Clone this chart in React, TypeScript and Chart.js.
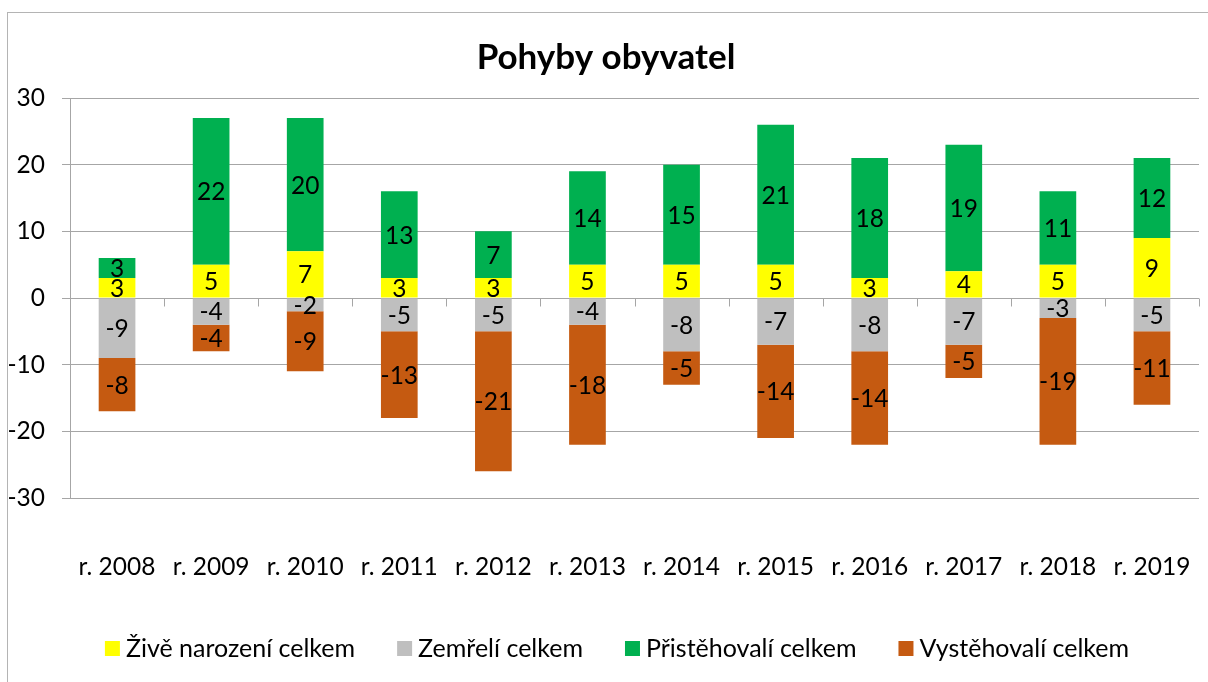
import React, { useEffect, useRef } from 'react';
import { Chart, registerables } from 'chart.js';

Chart.register(...registerables);

const chartTitle = 'Pohyby obyvatel';
const categories = ['r. 2008', 'r. 2009', 'r. 2010', 'r. 2011', 'r. 2012', 'r. 2013', 'r. 2014', 'r. 2015', 'r. 2016', 'r. 2017', 'r. 2018', 'r. 2019'];
const liveBirths = [3, 5, 7, 3, 3, 5, 5, 5, 3, 4, 5, 9];
const deaths = [-9, -4, -2, -5, -5, -4, -8, -7, -8, -7, -3, -5];
const immigrants = [3, 22, 20, 13, 7, 14, 15, 21, 18, 19, 11, 12];
const emigrants = [-8, -4, -9, -13, -21, -18, -5, -14, -14, -5, -19, -11];
const seriesNames = ['Živě narození celkem', 'Zemřelí celkem', 'Přistěhovalí celkem', 'Vystěhovalí celkem'];
const seriesColors = ['#FFFF00', '#BFBFBF', '#00B050', '#C55A11'];
const yMin = -30;
const yMax = 30;
const yStep = 10;

const FONT = 'Lato, "DejaVu Sans", sans-serif';
const GRID = '#a6a6a6';
const AXIS_SIZE = 24.5;

const dataLabelsPlugin = {
  id: 'dataLabels',
  afterDatasetsDraw(chart: any) {
    const ctx = chart.ctx;
    ctx.save();
    ctx.font = `24.5px ${FONT}`;
    ctx.fillStyle = '#000';
    ctx.textAlign = 'center';
    ctx.textBaseline = 'middle';
    chart.data.datasets.forEach((ds: any, i: number) => {
      const meta = chart.getDatasetMeta(i);
      meta.data.forEach((bar: any, j: number) => {
        const v = ds.data[j];
        const p = bar.getProps(['x', 'y', 'base'], true);
        ctx.fillText(String(v), p.x, (p.y + p.base) / 2 + 1);
      });
    });
    ctx.restore();
  },
};

const zeroTicksPlugin = {
  id: 'zeroTicks',
  beforeDatasetsDraw(chart: any) {
    const ctx = chart.ctx;
    const xs = chart.scales.x;
    const ys = chart.scales.y;
    const y0 = Math.round(ys.getPixelForValue(0)) + 0.5;
    const n = categories.length;
    ctx.save();
    ctx.strokeStyle = GRID;
    ctx.lineWidth = 1;
    ctx.beginPath();
    for (let j = 0; j <= n; j++) {
      const x = Math.round(xs.left + (j * (xs.right - xs.left)) / n) + 0.5;
      ctx.moveTo(x, y0);
      ctx.lineTo(x, y0 + 8);
    }
    ctx.stroke();
    ctx.restore();
  },
};

const titleLegendPlugin = {
  id: 'titleLegend',
  afterDraw(chart: any) {
    const ctx = chart.ctx;
    ctx.save();
    ctx.fillStyle = '#000';
    ctx.font = `bold 35px ${FONT}`;
    ctx.textAlign = 'center';
    ctx.textBaseline = 'middle';
    ctx.fillText(chartTitle, 606, 58);

    ctx.font = `25px ${FONT}`;
    ctx.textAlign = 'left';
    const box = 15;
    const gapBoxText = 6;
    const gapItems = 42;
    const widths = chart.data.datasets.map((ds: any) => box + gapBoxText + ctx.measureText(ds.label).width);
    const total = widths.reduce((a: number, b: number) => a + b, 0) + gapItems * (widths.length - 1);
    let x = 617 - total / 2;
    const yc = 648;
    chart.data.datasets.forEach((ds: any, i: number) => {
      ctx.fillStyle = ds.backgroundColor;
      ctx.fillRect(x, yc - 7, box, box);
      ctx.fillStyle = '#000';
      ctx.fillText(ds.label, x + box + gapBoxText, yc + 1);
      x += widths[i] + gapItems;
    });
    ctx.restore();
  },
};

export default function App() {
  const canvasRef = useRef<HTMLCanvasElement | null>(null);

  useEffect(() => {
    let chart: any = null;
    let cancelled = false;
    const make = () => {
      if (cancelled || !canvasRef.current) return;
      const seriesData = [liveBirths, deaths, immigrants, emigrants];
      chart = new Chart(canvasRef.current, {
        type: 'bar',
        data: {
          labels: categories,
          datasets: seriesData.map((d, i) => ({
            label: seriesNames[i],
            data: d,
            backgroundColor: seriesColors[i],
            borderWidth: 0,
            barPercentage: 0.39,
            categoryPercentage: 1.0,
          })),
        },
        options: {
          responsive: false,
          animation: false,
          devicePixelRatio: 1,
          layout: { padding: { top: 98, right: 9, bottom: 0, left: 0 } },
          plugins: {
            legend: { display: false },
            title: { display: false },
            tooltip: { enabled: false },
          },
          scales: {
            x: {
              stacked: true,
              grid: { display: false, drawTicks: false },
              border: { display: false },
              ticks: { color: '#000', font: { family: FONT, size: AXIS_SIZE }, padding: 54, maxRotation: 0, autoSkip: false },
              afterFit: (s: any) => { s.height = 184; s.paddingLeft = 0; s.paddingRight = 0; },
            },
            y: {
              stacked: true,
              min: yMin,
              max: yMax,
              ticks: { stepSize: yStep, color: '#000', font: { family: FONT, size: AXIS_SIZE }, padding: 17 },
              grid: { color: GRID, lineWidth: 1, tickLength: 8, drawTicks: true },
              border: { display: true, color: GRID, width: 1 },
              afterFit: (s: any) => { s.width = 70; s.paddingTop = 0; s.paddingBottom = 0; },
            },
          },
        },
        plugins: [zeroTicksPlugin, dataLabelsPlugin, titleLegendPlugin],
      } as any);
    };
    const fontsReady = (document as any).fonts
      ? Promise.all([
          (document as any).fonts.load(`24px Lato`),
          (document as any).fonts.load(`bold 35px Lato`),
        ]).catch(() => null)
      : Promise.resolve(null);
    fontsReady.then(make);
    return () => {
      cancelled = true;
      if (chart) chart.destroy();
    };
  }, []);

  return (
    <div style={{ position: 'fixed', left: 0, top: 0, width: 1208, height: 682, overflow: 'hidden', background: '#fff' }}>
      <div style={{ position: 'absolute', left: 7, top: 12, width: 1300, height: 800, border: '1px solid #b4b4b4', boxSizing: 'border-box' }} />
      <canvas ref={canvasRef} width={1208} height={682} style={{ position: 'absolute', left: 0, top: 0, width: 1208, height: 682 }} />
    </div>
  );
}
